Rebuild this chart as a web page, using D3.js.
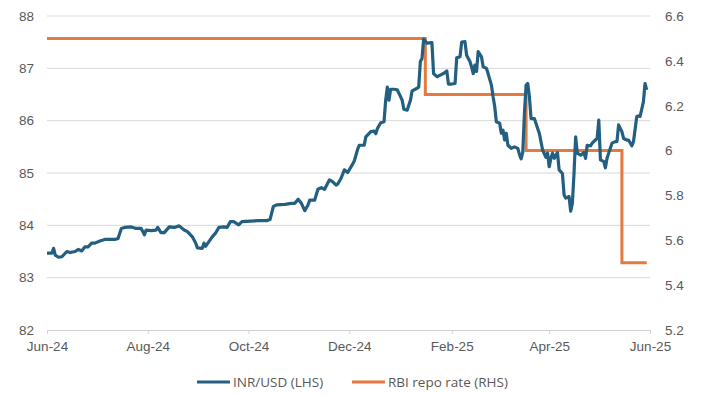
<!DOCTYPE html>
<html><head><meta charset="utf-8">
<script src="https://cdn.jsdelivr.net/npm/d3@7"></script>
<style>
html,body{margin:0;padding:0;background:#fff;}
svg{display:block;font-family:"Open Sans","Noto Sans",sans-serif;}
</style></head>
<body><svg id="c" width="711" height="395"></svg>
<script>
const inrDates = ["2024-06-01","2024-06-04","2024-06-05","2024-06-06","2024-06-08","2024-06-10","2024-06-13","2024-06-15","2024-06-18","2024-06-20","2024-06-22","2024-06-24","2024-06-26","2024-06-28","2024-06-30",
"2024-07-03","2024-07-06","2024-07-09","2024-07-12","2024-07-14","2024-07-16","2024-07-18","2024-07-22","2024-07-25","2024-07-28","2024-07-30","2024-07-31",
"2024-08-03","2024-08-06","2024-08-07","2024-08-09","2024-08-11","2024-08-14","2024-08-17","2024-08-20","2024-08-23","2024-08-25","2024-08-28","2024-08-30","2024-08-31",
"2024-09-03","2024-09-04","2024-09-05","2024-09-07","2024-09-09","2024-09-11","2024-09-13","2024-09-16","2024-09-18","2024-09-20","2024-09-22","2024-09-25","2024-09-27",
"2024-10-02","2024-10-07","2024-10-12","2024-10-14","2024-10-16","2024-10-18","2024-10-23","2024-10-27","2024-10-29","2024-10-31",
"2024-11-02","2024-11-04","2024-11-06","2024-11-07","2024-11-10","2024-11-12","2024-11-14","2024-11-16","2024-11-19","2024-11-21","2024-11-23","2024-11-24","2024-11-26","2024-11-28","2024-11-30",
"2024-12-03","2024-12-04","2024-12-06","2024-12-07","2024-12-10","2024-12-11","2024-12-14","2024-12-16","2024-12-17","2024-12-18","2024-12-20","2024-12-22","2024-12-23","2024-12-24","2024-12-25","2024-12-26","2024-12-28","2024-12-30",
"2025-01-01","2025-01-02","2025-01-03","2025-01-05","2025-01-07","2025-01-08","2025-01-11","2025-01-12","2025-01-13","2025-01-14","2025-01-15","2025-01-17","2025-01-20","2025-01-21","2025-01-23","2025-01-25","2025-01-27","2025-01-29","2025-01-30",
"2025-02-01","2025-02-03","2025-02-04","2025-02-06","2025-02-07","2025-02-09","2025-02-10","2025-02-12","2025-02-13","2025-02-14","2025-02-15","2025-02-16","2025-02-17","2025-02-19","2025-02-20","2025-02-22","2025-02-23","2025-02-25","2025-02-26","2025-02-27","2025-02-28",
"2025-03-02","2025-03-03","2025-03-04","2025-03-05","2025-03-06","2025-03-07","2025-03-09","2025-03-11","2025-03-13","2025-03-14","2025-03-15","2025-03-16","2025-03-17","2025-03-18","2025-03-19","2025-03-20","2025-03-21","2025-03-23","2025-03-25","2025-03-26","2025-03-28","2025-03-30","2025-03-31",
"2025-04-01","2025-04-02","2025-04-03","2025-04-04","2025-04-06","2025-04-07","2025-04-09","2025-04-10","2025-04-11","2025-04-13","2025-04-14","2025-04-15","2025-04-16","2025-04-17","2025-04-18","2025-04-20","2025-04-22","2025-04-23","2025-04-24","2025-04-26","2025-04-27","2025-04-29","2025-04-30",
"2025-05-01","2025-05-02","2025-05-04","2025-05-05","2025-05-06","2025-05-07","2025-05-09","2025-05-11","2025-05-12","2025-05-13","2025-05-15","2025-05-16","2025-05-18","2025-05-19","2025-05-21","2025-05-22","2025-05-24","2025-05-25","2025-05-26","2025-05-28","2025-05-29","2025-05-30"];
const inrValues = [83.47,83.47,83.56,83.43,83.39,83.40,83.50,83.48,83.50,83.54,83.51,83.59,83.59,83.66,83.66,
83.70,83.73,83.73,83.73,83.75,83.94,83.96,83.97,83.94,83.94,83.82,83.91,
83.90,83.91,83.96,83.86,83.86,83.97,83.96,83.99,83.91,83.88,83.78,83.66,83.57,
83.56,83.66,83.60,83.69,83.78,83.85,83.96,83.97,83.96,84.07,84.07,84.01,84.07,
84.08,84.09,84.09,84.11,84.36,84.39,84.40,84.42,84.42,84.50,
84.42,84.28,84.39,84.48,84.48,84.69,84.72,84.69,84.87,84.83,84.77,84.79,84.90,85.06,85.01,
85.17,85.23,85.45,85.53,85.53,85.69,85.79,85.80,85.75,85.85,85.96,85.98,86.39,86.64,86.39,86.60,86.60,86.59,
86.46,86.39,86.22,86.20,86.39,86.57,86.62,86.64,87.13,87.19,87.56,87.48,87.49,86.90,86.84,86.87,86.90,86.95,86.70,
86.70,86.71,87.20,87.22,87.50,87.51,87.25,87.13,87.03,86.90,87.06,86.94,87.32,87.22,87.03,87.00,86.90,86.68,86.46,86.27,85.98,
85.95,85.76,85.82,85.63,85.76,85.53,85.47,85.50,85.47,85.35,85.27,85.40,86.14,86.68,86.71,86.46,86.04,86.04,85.85,85.76,85.44,85.30,85.38,
85.12,85.28,85.38,85.28,85.39,85.06,84.99,84.58,84.52,84.55,84.27,84.42,84.99,85.69,85.38,85.34,85.39,85.28,85.53,85.52,85.57,85.63,85.66,
86.01,85.25,85.22,85.10,85.28,85.38,85.57,85.60,85.60,85.92,85.79,85.66,85.63,85.63,85.52,85.60,86.08,86.09,86.08,86.36,86.71,86.59];
const repoDates = ["2024-06-01","2025-01-16","2025-03-18","2025-05-15","2025-05-30"];
const repoValues = [6.5,6.25,6.0,5.5,5.5];
const leftTicks = [82,83,84,85,86,87,88];
const rightTicks = [5.2,5.4,5.6,5.8,6,6.2,6.4,6.6];
const xTickDates = ["2024-06-01","2024-08-01","2024-10-01","2024-12-01","2025-02-01","2025-04-01","2025-06-01"];
const seriesNames = ["INR/USD (LHS)","RBI repo rate (RHS)"];
const colors = ["#235F80","#E47A3F"];

const parse = d3.timeParse("%Y-%m-%d");
const svg = d3.select("#c");
const m = {l:47, r:650, t:16, b:330};
const fs = "13.5px";
const x = d3.scaleTime().domain([parse(xTickDates[0]), parse(xTickDates[xTickDates.length-1])]).range([m.l, m.r]);
const yL = d3.scaleLinear().domain([82,88]).range([m.b, m.t]);
const yR = d3.scaleLinear().domain([5.2,6.6]).range([m.b, m.t]);

// gridlines
svg.append("g").selectAll("line").data(leftTicks.slice(1)).join("line")
  .attr("x1", m.l).attr("x2", m.r).attr("y1", d=>yL(d)).attr("y2", d=>yL(d))
  .attr("stroke","#d9d9d9").attr("stroke-width",1);

// bottom axis
const xa = svg.append("g").attr("transform",`translate(0,${m.b})`)
  .call(d3.axisBottom(x).tickValues(xTickDates.map(parse)).tickFormat(d3.timeFormat("%b-%y")).tickSize(4).tickPadding(7));
xa.select(".domain").attr("stroke","#d0d0d0");
xa.selectAll(".tick line").attr("stroke","#d0d0d0");
xa.selectAll("text").attr("fill","#595959").attr("font-size",fs);

// left axis
const la = svg.append("g").attr("transform",`translate(${m.l},0)`)
  .call(d3.axisLeft(yL).tickValues(leftTicks).tickFormat(d3.format("d")).tickSize(0).tickPadding(13));
la.select(".domain").remove();
la.selectAll("text").attr("fill","#595959").attr("font-size",fs);

// right axis
const ra = svg.append("g").attr("transform",`translate(${m.r},0)`)
  .call(d3.axisRight(yR).tickValues(rightTicks).tickFormat(d=>String(+d.toFixed(1))).tickSize(0).tickPadding(15));
ra.select(".domain").remove();
ra.selectAll("text").attr("fill","#595959").attr("font-size",fs);

// repo line
const repo = repoDates.map((d,i)=>({d:parse(d), v:repoValues[i]}));
svg.append("path").datum(repo)
  .attr("d", d3.line().x(p=>x(p.d)).y(p=>yR(p.v)).curve(d3.curveStepAfter))
  .attr("fill","none").attr("stroke",colors[1]).attr("stroke-width",3);

// INR line
const inr = inrDates.map((d,i)=>({d:parse(d), v:inrValues[i]}));
svg.append("path").datum(inr)
  .attr("d", d3.line().x(p=>x(p.d)).y(p=>yL(p.v)))
  .attr("fill","none").attr("stroke",colors[0]).attr("stroke-width",3.2).attr("stroke-linejoin","round");

// legend
const lg = svg.append("g");
const legX = [197, 352];
seriesNames.forEach((n,i)=>{
  lg.append("line").attr("x1",legX[i]).attr("x2",legX[i]+33).attr("y1",382).attr("y2",382)
    .attr("stroke",colors[i]).attr("stroke-width",3.2);
  lg.append("text").attr("x",legX[i]+36).attr("y",382).attr("dy","0.35em")
    .attr("fill","#595959").attr("font-size",fs).text(n);
});
</script></body></html>
